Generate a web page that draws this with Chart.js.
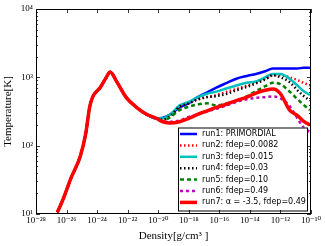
<!DOCTYPE html>
<html>
<head>
<meta charset="utf-8">
<script src="https://cdn.jsdelivr.net/npm/chart.js@4.4.1/dist/chart.umd.min.js"></script>
<style>
  html, body { margin:0; padding:0; background:#fff; }
  #wrap { width:325px; height:246px; }
</style>
</head>
<body>
<div id="wrap"><canvas id="ch"></canvas></div>
<script>
// density grid [g/cm^3]
const density = [
  2.5e-27, 6.3e-27, 2.0e-26, 7.9e-26, 1.8e-25, 3.2e-25, 5.0e-25, 1.6e-24, 4.0e-24, 7.1e-24,
  2.0e-23, 7.9e-23, 4.0e-22, 1.6e-21, 7.9e-21,
  2.0e-20, 6.3e-20, 2.5e-19, 1.0e-18, 3.2e-18, 1.6e-17, 6.3e-17, 3.2e-16, 1.3e-15, 6.3e-15,
  2.5e-14, 1.0e-13, 3.2e-13, 1.0e-12, 4.0e-12, 1.3e-11, 3.2e-11, 8.5e-11
];
// shared collapse phase (same for all runs)
const collapse = [10.6, 17, 34, 70, 150, 360, 510, 710, 1000, 1200, 850, 510, 360, 290, 250];

const run1 = [...collapse, 257, 288, 363, 417, 501, 603, 708, 832, 955, 1047, 1122, 1230, 1349, 1349, 1349, 1349, 1380, 1380];
const run2 = [...collapse, 240, 275, 355, 417, 468, 513, 550, 617, 676, 759, 851, 955, 1072, 1072, 1000, 912, 832, 759];
const run3 = [...collapse, 251, 288, 389, 437, 501, 575, 617, 692, 759, 832, 871, 1000, 1122, 1122, 955, 759, 631, 550];
const run4 = [...collapse, 240, 275, 372, 417, 468, 513, 530, 575, 646, 724, 813, 933, 1072, 1000, 851, 646, 537, 457];
const run5 = [...collapse, 229, 263, 331, 372, 398, 417, 389, 417, 457, 525, 631, 741, 832, 794, 617, 479, 398, 331];
const run6 = [...collapse, 224, 224, 234, 263, 282, 316, 347, 389, 437, 479, 501, 513, 525, 490, 380, 251, 186, 158];
const run7 = [...collapse, 224, 214, 224, 251, 282, 324, 363, 407, 457, 513, 589, 646, 676, 575, 331, 275, 229, 200];

const labels = ['run1: PRIMORDIAL','run2: fdep=0.0082','run3: fdep=0.015','run4: fdep=0.03','run5: fdep=0.10','run6: fdep=0.49','run7: \u03b1 = -3.5, fdep=0.49'];
const xTicks = [1e-28,1e-26,1e-24,1e-22,1e-20,1e-18,1e-16,1e-14,1e-12,1e-10];
const xTickLabels = ['10\u207b\u00b2\u2078','10\u207b\u00b2\u2076','10\u207b\u00b2\u2074','10\u207b\u00b2\u00b2','10\u207b\u00b2\u2070','10\u207b\u00b9\u2078','10\u207b\u00b9\u2076','10\u207b\u00b9\u2074','10\u207b\u00b9\u00b2','10\u207b\u00b9\u2070'];
const yTicks = [10,100,1000,10000];
const yTickLabels = ['10\u00b9','10\u00b2','10\u00b3','10\u2074'];

const pts = arr => arr.map((t,i) => ({x:density[i], y:t}));
const styles = [
  {c:'#0000ff', w:2.5, d:[]},
  {c:'#ff0000', w:2.5, d:[1.5,2.5]},
  {c:'#00bfbf', w:2.5, d:[]},
  {c:'#000000', w:2.5, d:[1.5,2.5]},
  {c:'#008000', w:2.5, d:[4,3]},
  {c:'#bf00bf', w:2.5, d:[3,3]},
  {c:'#ff0000', w:3.5, d:[]}
];
const series = [run1,run2,run3,run4,run5,run6,run7];

const serif = '"Liberation Serif", "DejaVu Serif", serif';

// inward ticks on all four sides, like the original
const tickPlugin = {
  id:'inTicks',
  afterDraw(chart){
    const {ctx, chartArea:a, scales:{x,y}} = chart;
    ctx.save();
    ctx.strokeStyle = '#000'; ctx.lineWidth = 0.8;
    ctx.beginPath();
    xTicks.forEach(v => {
      const px = Math.round(x.getPixelForValue(v)) + 0.5;
      ctx.moveTo(px, a.bottom); ctx.lineTo(px, a.bottom - 4);
      ctx.moveTo(px, a.top); ctx.lineTo(px, a.top + 4);
    });
    for (let e = 1; e < 4; e++) {
      for (let m = 1; m < 10; m++) {
        const v = m * Math.pow(10, e);
        const py = Math.round(y.getPixelForValue(v)) + 0.5;
        const len = m === 1 ? 4 : 2;
        ctx.moveTo(a.left, py); ctx.lineTo(a.left + len, py);
        ctx.moveTo(a.right, py); ctx.lineTo(a.right - len, py);
      }
    }
    ctx.stroke();
    ctx.lineWidth = 1;
    ctx.strokeRect(a.left + 0.5, a.top + 0.5, a.right - a.left - 1, a.bottom - a.top - 1);
    ctx.restore();
  }
};

// boxed legend inside the lower right of the plot
const legendPlugin = {
  id:'boxLegend',
  afterDatasetsDraw(chart){
    const {ctx, chartArea:a} = chart;
    const w = 129, h = 83;
    const bx = a.right - 4 - w, by = a.bottom - 3.5 - h;
    ctx.save();
    ctx.fillStyle = '#fff';
    ctx.fillRect(bx, by, w, h);
    ctx.strokeStyle = '#000'; ctx.lineWidth = 1;
    ctx.strokeRect(bx + 0.5, by + 0.5, w, h);
    ctx.font = '8px "DejaVu Sans", sans-serif';
    ctx.textBaseline = 'middle';
    styles.forEach((s, i) => {
      const yy = by + 6.5 + i * 11.4;
      ctx.strokeStyle = s.c; ctx.lineWidth = s.w; ctx.setLineDash(s.d);
      ctx.beginPath(); ctx.moveTo(bx + 2, yy); ctx.lineTo(bx + 19, yy); ctx.stroke();
      ctx.setLineDash([]);
      ctx.fillStyle = '#000';
      ctx.fillText(labels[i], bx + 24, yy);
    });
    ctx.restore();
  }
};

new Chart(document.getElementById('ch'), {
  type:'line',
  data:{
    datasets: series.map((s, i) => ({
      label: labels[i], data: pts(s), order: series.length - i,
      borderColor: styles[i].c, borderWidth: styles[i].w, borderDash: styles[i].d,
      pointRadius:0, fill:false, tension:0.3, cubicInterpolationMode:'monotone'
    }))
  },
  options:{
    responsive:true, maintainAspectRatio:false, animation:false,
    layout:{ padding:{ top:9, right:14, left:0, bottom:0 } },
    plugins:{ legend:{display:false}, tooltip:{enabled:false} },
    scales:{
      x:{
        type:'logarithmic', min:1e-28, max:1e-10,
        afterBuildTicks: s => { s.ticks = xTicks.map(v => ({value:v})); },
        afterFit: s => { s.height = 32; },
        ticks:{ autoSkip:false, maxRotation:0, padding:1, color:'#000', font:{family:serif, size:9},
                callback:(v) => xTickLabels[xTicks.indexOf(v)] ?? '' },
        grid:{ display:false, drawTicks:false }, border:{ display:false },
        title:{ display:true, text:'Density[g/cm\u00b3 ]', color:'#000', font:{family:serif, size:11}, padding:{top:1, bottom:3} }
      },
      y:{
        type:'logarithmic', min:10, max:10000,
        afterBuildTicks: s => { s.ticks = yTicks.map(v => ({value:v})); },
        afterFit: s => { s.width = 36; },
        ticks:{ autoSkip:false, padding:3, color:'#000', font:{family:serif, size:9},
                callback:(v) => yTickLabels[yTicks.indexOf(v)] ?? '' },
        grid:{ display:false, drawTicks:false }, border:{ display:false },
        title:{ display:true, text:'Temperature[K]', color:'#000', font:{family:serif, size:11}, padding:{top:2, bottom:0} }
      }
    }
  },
  plugins:[tickPlugin, legendPlugin]
});
</script>
</body>
</html>
